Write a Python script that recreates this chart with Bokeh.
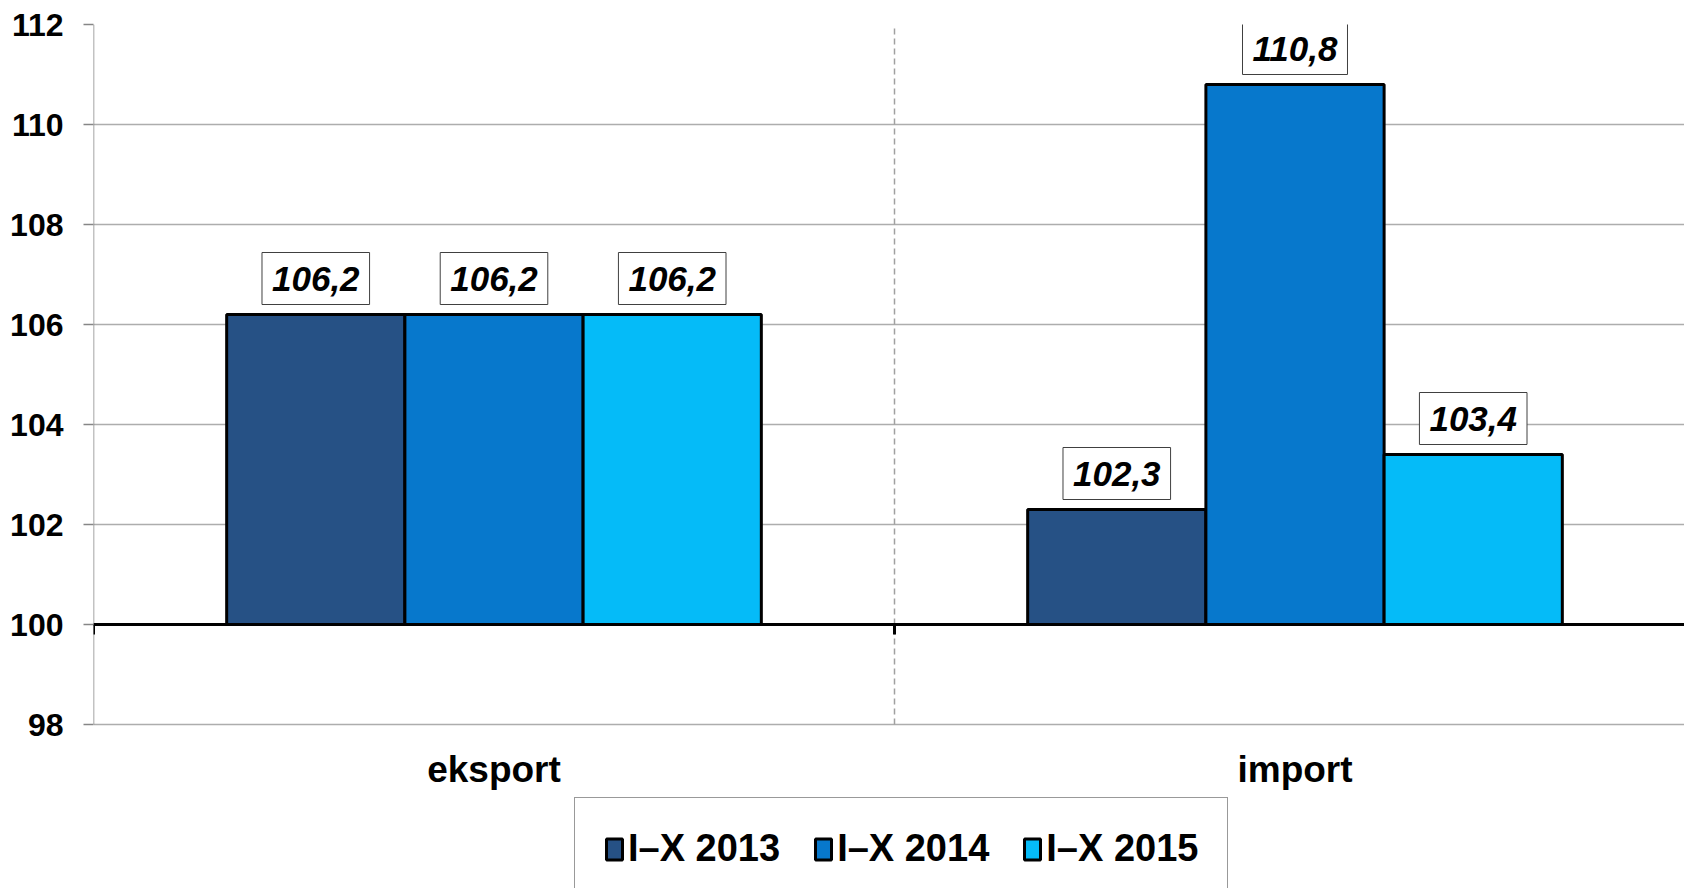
from bokeh.plotting import figure
from bokeh.models import (Range1d, FixedTicker, Span, Legend, LegendItem, ColumnDataSource)
from bokeh.core.properties import value
from bokeh.embed import file_html
from bokeh.resources import INLINE

categories = ["eksport", "import"]
series_names = ["I\u2013X 2013", "I\u2013X 2014", "I\u2013X 2015"]
values_2013 = [106.2, 102.3]
values_2014 = [106.2, 110.8]
values_2015 = [106.2, 103.4]
label_2013 = ["106,2", "102,3"]
label_2014 = ["106,2", "110,8"]
label_2015 = ["106,2", "103,4"]
y_ticks = [98, 100, 102, 104, 106, 108, 110, 112]

colors = ["#265185", "#0778CC", "#05BBF8"]
FONT = "Liberation Sans"
BASE = 100
BAR_W = 0.2225

p = figure(width=1684, height=888, frame_width=1591, frame_height=864,
           min_border_left=93, min_border_right=0, min_border_top=24, min_border_bottom=0,
           x_range=Range1d(0, 1591 / 801), y_range=Range1d(112 - 864 / 50, 112),
           x_axis_location=None,
           output_backend="svg", toolbar_location=None, background_fill_color="white",
           border_fill_color="white")
p.outline_line_color = None

# y axis
p.yaxis.ticker = FixedTicker(ticks=y_ticks)
p.yaxis.axis_line_color = None
p.yaxis.major_tick_line_color = "#868686"
p.yaxis.major_tick_line_width = 1.5
p.yaxis.major_tick_out = 10
p.yaxis.major_tick_in = 0
p.yaxis.minor_tick_line_color = None
p.yaxis.major_label_standoff = 20
p.yaxis.major_label_text_font = FONT
p.yaxis.major_label_text_font_size = "32px"
p.yaxis.major_label_text_font_style = "bold"
p.yaxis.major_label_text_color = "black"

# grids
p.ygrid.ticker = FixedTicker(ticks=y_ticks)
p.ygrid.grid_line_color = "#ADADAD"
p.ygrid.grid_line_width = 1.5
p.xgrid.grid_line_color = None

centers = [i + 0.5 for i in range(len(categories))]
boundaries = list(range(len(categories) + 1))

# y axis line (from lowest to highest tick) and dashed category separators
p.segment(x0=[boundaries[0]], x1=[boundaries[0]], y0=[y_ticks[0]], y1=[y_ticks[-1]],
          line_color="#868686", line_width=1.5)
p.segment(x0=boundaries[1:], x1=boundaries[1:], y0=[y_ticks[0]] * len(boundaries[1:]),
          y1=[y_ticks[-1]] * len(boundaries[1:]),
          line_color="#A0A0A0", line_width=1.5, line_dash="6 4")

series = [values_2013, values_2014, values_2015]
labels = [label_2013, label_2014, label_2015]
renderers = []
for k, (vals, labs, col) in enumerate(zip(series, labels, colors)):
    xs = [c + (k - 1) * BAR_W for c in centers]
    src = ColumnDataSource(dict(x=xs, top=vals, lab=labs))
    r = p.vbar(x="x", top="top", bottom=BASE, width=BAR_W, source=src,
               fill_color=col, line_color="black", line_width=3)
    renderers.append(r)
    p.text(x="x", y="top", text="lab", source=src, text_align="center",
           text_baseline="bottom", y_offset=-10,
           text_font=value(FONT), text_font_size="35px", text_font_style="bold italic",
           text_color="black", background_fill_color="white",
           border_line_color="#404040", border_line_width=1,
           padding=dict(left=10, right=10, top=14, bottom=14))

# horizontal axis line at 100 with boundary ticks
p.add_layout(Span(location=BASE, dimension="width", line_color="black", line_width=3))
p.segment(x0=boundaries, x1=boundaries, y0=[BASE] * len(boundaries),
          y1=[BASE - 0.2] * len(boundaries), line_color="black", line_width=3)

# category labels under the lowest gridline
p.text(x=centers, y=[y_ticks[0]] * len(centers), text=categories,
       text_align="center", text_baseline="middle", y_offset=45,
       text_font=value(FONT), text_font_size="37px", text_font_style="bold",
       text_color="black")

legend = Legend(items=[LegendItem(label=n, renderers=[r]) for n, r in zip(series_names, renderers)],
                orientation="horizontal", location=(481, -12),
                label_text_font=FONT, label_text_font_size="38px", label_text_font_style="bold",
                label_text_color="black", glyph_width=20, glyph_height=26, label_height=40,
                label_standoff=4, spacing=33, padding=29, margin=0,
                border_line_color="#333333", border_line_width=1.5,
                background_fill_color="white", background_fill_alpha=1)
p.add_layout(legend, "center")

open("out.html", "w").write(file_html(p, INLINE))
